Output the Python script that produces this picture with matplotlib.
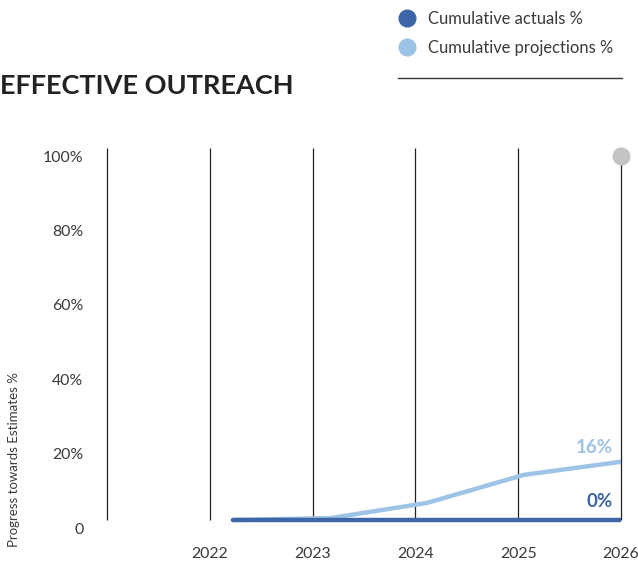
import numpy as np
import matplotlib
matplotlib.use('Agg')
import matplotlib.pyplot as plt
from matplotlib.lines import Line2D

plt.rcParams['font.family'] = ['Lato', 'DejaVu Sans']

years = [2022, 2023, 2024, 2025, 2026]
actuals = [0, 0, 0, 0, 0]
projections = [0, 0.5, 4.7, 12.4, 16]
target = 100
ytick_labels = ['0', '20%', '40%', '60%', '80%', '100%']

c_act = '#3c66a8'
c_proj = '#9dc3e6'
c_text = '#3a3a3a'

fig = plt.figure(figsize=(6.38, 5.68), dpi=100)
W, H = 638, 568
ax = fig.add_axes([107 / W, (H - 528) / H, (621 - 107) / W, (528 - 156) / H])

ax.set_xlim(2021, 2026)
ax.set_ylim(-2.2, 100)
for s in ax.spines.values():
    s.set_visible(False)

# year dividers
ax.vlines(range(2021, 2027), 0, 102.2, color='#222222', lw=0.9, clip_on=False, zorder=1)

ax.set_xticks(years)
ax.set_xticklabels([str(y) for y in years])
ax.set_yticks(np.linspace(-2.2, 100, 6))
ax.set_yticklabels(ytick_labels)
ax.tick_params(length=0, labelsize=11.4, labelcolor=c_text)
ax.tick_params(axis='x', pad=14)
ax.tick_params(axis='y', pad=17)

# target marker
ax.plot([2026], [target], 'o', ms=12, color='#c4c4c4', clip_on=False, zorder=5)

# series on their own index scale
ax2 = ax.twiny()
ax2.set_xlim(-1.3, 4)
ax2.axis('off')
idx = np.arange(len(years))
ax2.plot(idx, projections, color=c_proj, lw=3.2, solid_capstyle='round', zorder=3)
ax2.plot(idx, actuals, color=c_act, lw=3.2, solid_capstyle='round', zorder=4)
ax2.annotate(f'{projections[-1]:.0f}%', (idx[-1], projections[-1]), xytext=(-8, 14),
             textcoords='offset pixels', color=c_proj, fontsize=13.5, fontweight='bold',
             ha='right', va='center')
ax2.annotate(f'{actuals[-1]:.0f}%', (idx[-1], actuals[-1]), xytext=(-8, 18),
             textcoords='offset pixels', color=c_act, fontsize=13.5, fontweight='bold',
             ha='right', va='center')

fig.text(14 / W, 1 - 460 / H, 'Progress towards Estimates %', rotation=90,
         ha='center', va='center', fontsize=9.5, color=c_text)

fig.text(0, 1 - 86 / H, 'EFFECTIVE OUTREACH', fontsize=19.5, fontweight='bold',
         color='#222222', ha='left', va='center')

handles = [Line2D([], [], ls='none', marker='o', ms=12, color=c_act),
           Line2D([], [], ls='none', marker='o', ms=12, color=c_proj)]
fig.legend(handles, ['Cumulative actuals %', 'Cumulative projections %'],
           loc='upper left', bbox_to_anchor=(382 / W, 1 + 4 / H), frameon=False,
           fontsize=11.9, labelcolor=c_text, handletextpad=0.7, labelspacing=0.8,
           handlelength=1.2)
fig.add_artist(Line2D([398 / W, 622 / W], [1 - 78 / H] * 2, color='#333333', lw=1))

fig.savefig('out.png', dpi=100)
